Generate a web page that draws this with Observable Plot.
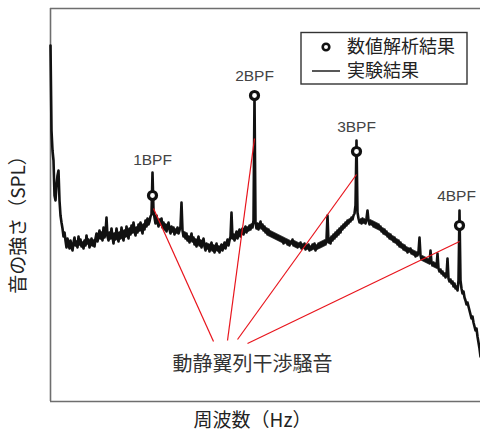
<!DOCTYPE html>
<html>
<head>
<meta charset="utf-8">
<script src="https://cdn.jsdelivr.net/npm/d3@7"></script>
<script src="https://cdn.jsdelivr.net/npm/@observablehq/plot@0.6"></script>
<style>
  html, body { margin: 0; padding: 0; background: #fff; }
  #chart { width: 480px; height: 434px; }
</style>
</head>
<body>
<div id="chart"></div>
<script>
// 実験結果 (measured spectrum): frequency [Hz] and SPL [arbitrary units]
const freq = [
  0,10,20,30,40,50,60,70,80,90,
  100,110,120,130,140,150,160,170,180,190,
  200,210,220,230,240,250,260,270,280,290,
  300,310,320,330,340,350,360,370,380,390,
  400,410,420,430,440,450,460,470,480,490,
  500,510,520,530,540,550,560,570,580,590,
  600,610,620,630,640,650,660,670,680,690,
  700,710,720,730,740,750,760,770,780,790,
  800,810,820,830,840,850,860,870,880,890,
  900,910,920,930,940,950,960,970,980,990,
  1000,1010,1020,1030,1040,1050,1060,1070,1080,1090,
  1100,1110,1120,1130,1140,1150,1160,1170,1180,1190,
  1200,1210,1220,1230,1240,1250,1260,1270,1280,1290,
  1300,1310,1320,1330,1340,1350,1360,1370,1380,1390,
  1400,1410,1420,1430,1440,1450,1460,1470,1480,1490,
  1500,1510,1520,1530,1540,1550,1560,1570,1580,1590,
  1600,1610,1620,1630,1640,1650,1660,1670,1680,1690,
  1700,1710,1720,1730,1740,1750,1760,1770,1780,1790,
  1800,1810,1820,1830,1840,1850,1860,1870,1880,1890,
  1900,1910,1920,1930,1940,1950,1960,1970,1980,1990,
  2000,2010,2020,2030,2040,2050,2060,2070,2080,2090,
  2100,2110,2120,2130,2140,2150,2160,2170,2180,2190,
  2200,2210,2220,2230,2240,2250,2260,2270,2280,2290,
  2300,2310,2320,2330,2340,2350,2360,2370,2380,2390,
  2400,2410,2420,2430,2440,2450,2460,2470,2480,2490,
  2500,2510,2520,2530,2540,2550,2560,2570,2580,2590,
  2600,2610,2620,2630,2640,2650,2660,2670,2680,2690,
  2700,2710,2720,2730,2740,2750,2760,2770,2780,2790,
  2800,2810,2820,2830,2840,2850,2860,2870,2880,2890,
  2900,2910,2920,2930,2940,2950,2960,2970,2980,2990,
  3000,3010,3020,3030,3040,3050,3060,3070,3080,3090,
  3100,3110,3120,3130,3140,3150,3160,3170,3180,3190,
  3200,3210,3220,3230,3240,3250,3260,3270,3280,3290,
  3300,3310,3320,3330,3340,3350,3360,3370,3380,3390,
  3400,3410,3420,3430,3440,3450,3460,3470,3480,3490,
  3500,3510,3520,3530,3540,3550,3560,3570,3580,3590,
  3600,3610,3620,3630,3640,3650,3660,3670,3680,3690,
  3700,3710,3720,3730,3740,3750,3760,3770,3780,3790,
  3800,3810,3820,3830,3840,3850,3860,3870,3880,3890,
  3900,3910,3920,3930,3940,3950,3960,3970,3980,3990,
  4000,4010,4020,4030,4040,4050,4060,4070,4080,4090,
  4100,4110,4120,4130,4140,4150,4160,4170,4180,4190,
  4200,4210,4220,4230,4240,4250,4260,4270,4280,4290,
  4300
];
const spl = [
  356,271,251,241,206,201,216,226,231,201,
  186,179,173,165,169,161,154,163,158,153,
  161,155,151,159,164,156,160,154,165,157,
  162,155,159,153,161,156,166,158,162,154,
  158,163,156,161,155,163,168,160,165,171,
  163,169,161,174,164,169,184,165,161,169,
  163,173,165,158,168,162,173,165,160,169,
  163,174,166,161,171,165,175,168,163,173,
  167,176,169,179,171,166,174,169,177,171,
  179,173,168,177,172,181,175,183,177,180,
  185,187,229,191,184,178,186,180,175,182,
  177,183,174,179,172,177,170,175,179,172,
  168,175,170,174,167,172,169,174,168,171,
  175,199,171,165,169,163,168,161,165,159,
  163,168,160,164,157,162,155,160,165,156,
  161,154,159,163,155,151,158,153,157,150,
  155,159,151,156,149,154,158,151,155,149,
  154,157,151,155,159,153,158,162,156,161,
  165,189,163,167,161,166,170,163,168,172,
  165,170,173,167,172,175,169,174,171,176,
  172,177,174,181,306,179,173,178,172,176,
  180,173,177,171,175,169,173,167,172,166,
  170,165,169,164,168,163,167,162,166,161,
  165,160,164,158,163,159,162,157,161,156,
  160,158,162,156,160,155,159,154,158,155,
  159,153,157,154,158,152,156,153,157,151,
  155,152,157,153,158,151,156,153,158,154,
  159,155,160,156,161,157,162,186,159,163,
  158,165,161,167,163,169,165,171,167,173,
  169,175,172,177,174,179,176,181,178,182,
  180,184,182,186,188,196,261,189,183,179,
  182,178,183,179,182,178,183,191,181,177,
  181,177,180,175,179,174,178,173,177,172,
  175,170,173,168,172,167,170,165,168,163,
  167,162,165,160,164,159,162,157,161,155,
  159,154,157,152,156,151,154,149,153,150,
  153,148,151,147,150,145,149,146,150,164,
  146,142,145,141,144,140,143,139,142,138,
  151,139,136,139,135,138,134,148,133,130,
  132,128,130,126,128,124,126,143,123,120,
  122,118,120,115,118,113,115,111,121,191,
  121,113,108,110,104,101,97,99,95,91,
  87,83,85,79,75,71,73,65,59,53,
  45
];

// 数値解析結果 (numerical results at blade passing frequencies)
const bpfNames = ["1BPF", "2BPF", "3BPF", "4BPF"];
const bpfFreq = [1020, 2040, 3060, 4090];
const bpfSpl = [206, 306, 250, 176];
const bpfLabelFreq = [1020, 2040, 3060, 4060];
const bpfLabelSpl = [241, 325, 274, 205];

// annotation: 動静翼列干渉騒音
const noteText = "動静翼列干渉騒音";
const noteFreq = [2020];
const noteSpl = [37];
const leaderFromFreq = [1030, 2040, 3060, 4090];
const leaderFromSpl = [193, 263, 227, 160];
const leaderToFreq = [1630, 1770, 1870, 1970];
const leaderToSpl = [60, 61, 62, 58];

const xLabel = "周波数（Hz）";
const yLabel = "音の強さ（SPL）";
const legendLabels = ["数値解析結果", "実験結果"];
const xDomain = [0, 4300];
const yDomain = [0, 393];

const font = "'Noto Sans CJK JP', 'Noto Sans', sans-serif";
const latinFont = "'Liberation Sans', 'Noto Sans', sans-serif";
const spectrum = freq.map((f, i) => ({f, s: spl[i]}));
const idx = d3.range(bpfNames.length);

const plot = Plot.plot({
  width: 480,
  height: 434,
  marginLeft: 50,
  marginRight: 0,
  marginTop: 8,
  marginBottom: 33,
  x: {domain: xDomain, axis: null},
  y: {domain: yDomain, axis: null},
  style: {fontFamily: font, background: "#fff", overflow: "visible"},
  marks: [
    Plot.ruleX([xDomain[0]], {stroke: "#6e6e6e", strokeWidth: 1.6}),
    Plot.ruleY([yDomain[0]], {stroke: "#6e6e6e", strokeWidth: 1.6}),
    Plot.ruleY([yDomain[1]], {stroke: "#6e6e6e", strokeWidth: 1.6}),
    Plot.line(spectrum, {x: "f", y: "s", stroke: "#111", strokeWidth: 2.6, strokeLinejoin: "round"}),
    Plot.link(idx, {
      x1: i => leaderFromFreq[i], y1: i => leaderFromSpl[i],
      x2: i => leaderToFreq[i], y2: i => leaderToSpl[i],
      stroke: "#e8141c", strokeWidth: 1.2
    }),
    Plot.dot(idx, {x: i => bpfFreq[i], y: i => bpfSpl[i], r: 4, stroke: "#111", strokeWidth: 3.2, fill: "#fff"}),
    Plot.text(idx, {x: i => bpfLabelFreq[i], y: i => bpfLabelSpl[i], text: i => bpfNames[i],
      fontFamily: latinFont, fontSize: 15.5, fill: "#444", textAnchor: "middle", lineAnchor: "middle"}),
    Plot.text([noteText], {x: noteFreq, y: noteSpl, text: d => d, fontSize: 20, fill: "#333",
      textAnchor: "middle", lineAnchor: "middle"}),
    Plot.text([xLabel], {frameAnchor: "bottom", text: d => d, dx: -13, dy: 19, fontSize: 19, fill: "#222",
      textAnchor: "middle", lineAnchor: "middle"}),
    Plot.text([yLabel], {frameAnchor: "left", text: d => d, dx: -32, dy: 15, rotate: -90, fontSize: 19, fill: "#222",
      textAnchor: "middle", lineAnchor: "middle"})
  ]
});

document.getElementById("chart").appendChild(plot);

// legend box inside the plot (top right)
const svg = d3.select(plot);
const lg = svg.append("g").attr("font-family", font).attr("font-size", 18)
  .attr("fill", "#222").attr("text-anchor", "start");
lg.append("rect").attr("x", 301).attr("y", 32.5).attr("width", 166).attr("height", 51.5)
  .attr("fill", "#fff").attr("stroke", "#333").attr("stroke-width", 1.4);
lg.append("circle").attr("cx", 326).attr("cy", 47).attr("r", 3.3)
  .attr("fill", "#fff").attr("stroke", "#111").attr("stroke-width", 2.6);
lg.append("line").attr("x1", 312).attr("x2", 340).attr("y1", 71).attr("y2", 71)
  .attr("stroke", "#111").attr("stroke-width", 1.4);
lg.append("text").attr("x", 347).attr("y", 47).attr("dy", "0.35em")
  .attr("text-anchor", "start").text(legendLabels[0]);
lg.append("text").attr("x", 347).attr("y", 71).attr("dy", "0.35em")
  .attr("text-anchor", "start").text(legendLabels[1]);
</script>
</body>
</html>
